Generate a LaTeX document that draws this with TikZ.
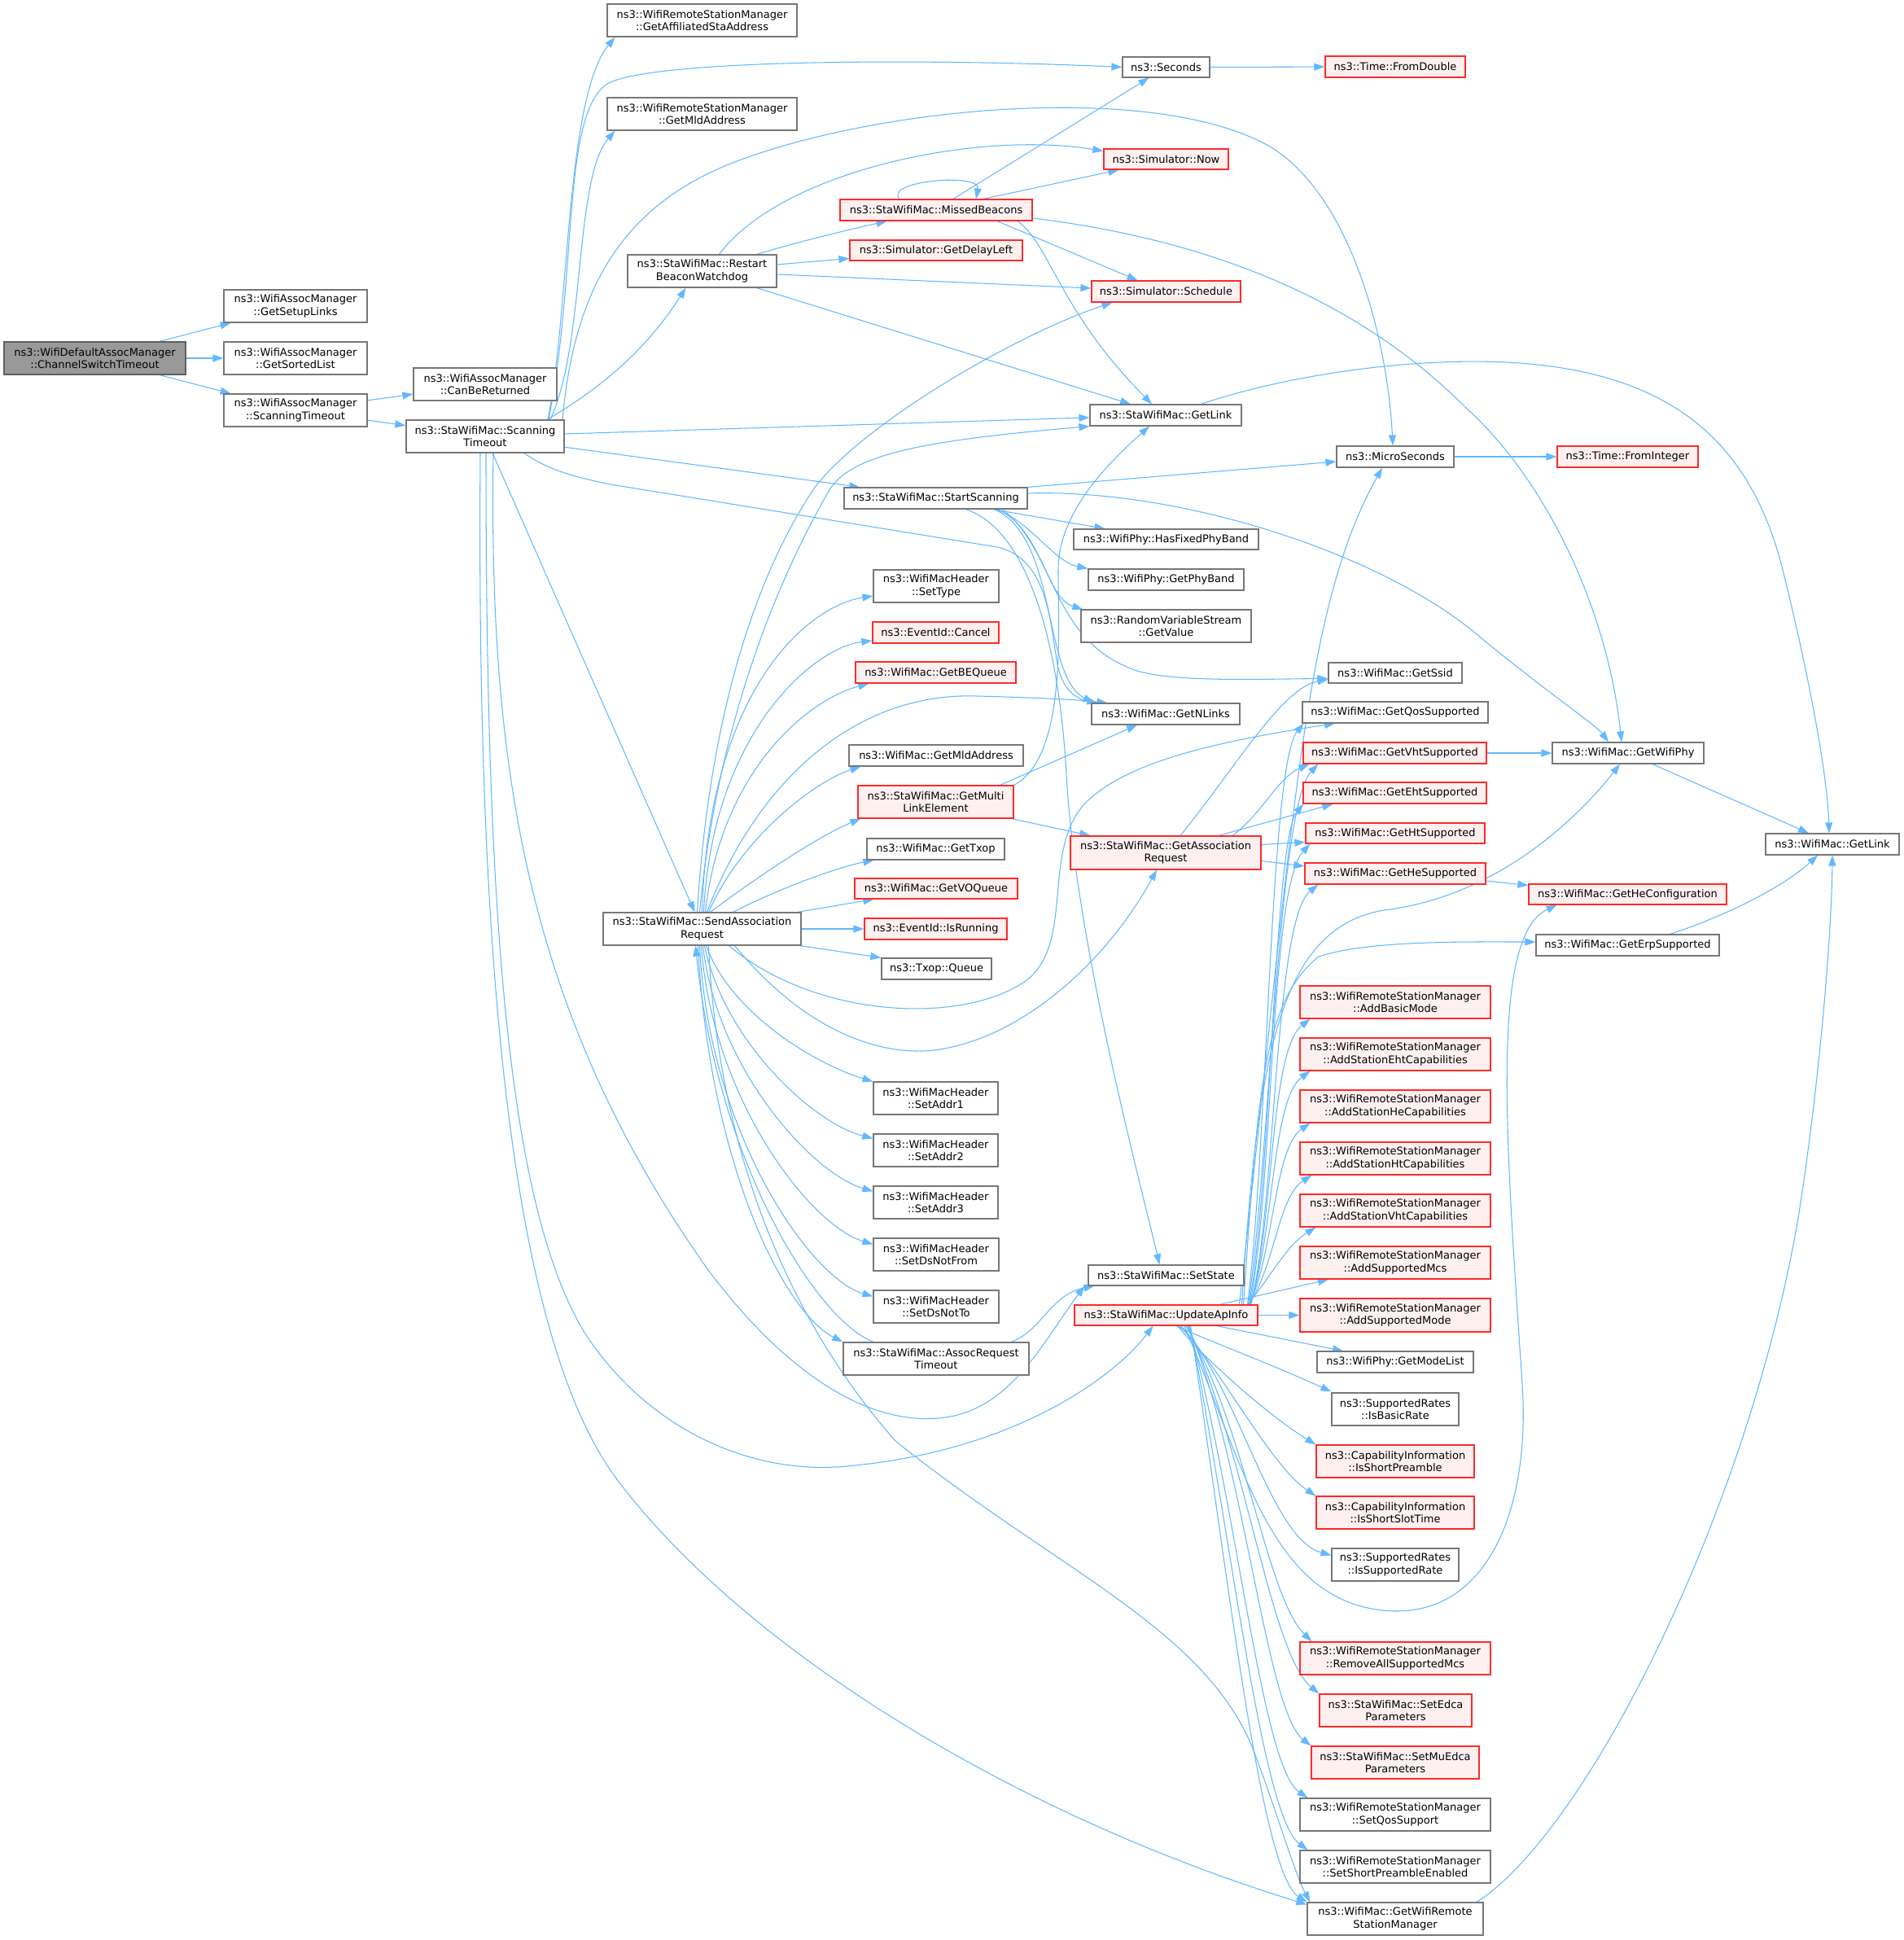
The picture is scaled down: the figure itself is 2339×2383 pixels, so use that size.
\documentclass[tikz,border=0pt]{standalone}
\usepackage{fontspec}
\setmainfont{DejaVu Sans}
\usetikzlibrary{arrows.meta,calc}
\definecolor{edgec}{HTML}{63B8FF}
\definecolor{nodeb}{HTML}{777777}
\definecolor{redb}{HTML}{FF2A2A}
\definecolor{redf}{HTML}{FFF0F0}
\definecolor{grayf}{HTML}{999999}
\pgfdeclarelayer{back}
\pgfdeclarelayer{edges}
\pgfsetlayers{back,edges,main}
\newcommand\mknode[7]{\node[#6, minimum width={(#3)-(#2)}, minimum height={(#5)-(#4)}] (#1) at ({((#2)+(#3))/2},{((#4)+(#5))/2}) {#7};}
\tikzset{
  wbox/.style={draw=nodeb, fill=white, line width=1.2pt, inner sep=0pt, align=center, font=\fontsize{13}{15.4}\selectfont},
  rbox/.style={wbox, draw=redb, fill=redf},
  gbox/.style={wbox, draw=nodeb!80!black, fill=grayf},
  e/.style={draw=edgec, line width=1.05pt, -{Triangle[length=13pt,width=9pt]}, fill=none}
}
\begin{document}
\begin{tikzpicture}[x=1pt,y=-1pt]
\begin{pgfonlayer}{back}
\fill[white] (0,0) rectangle (2339,2383);
\end{pgfonlayer}
\useasboundingbox (0,0) rectangle (2339,2383);

\mknode{root}{5}{228}{420}{460}{gbox}{ns3::WifiDefaultAssocManager\\::ChannelSwitchTimeout}
\mknode{setup}{275}{451}{356}{396}{wbox}{ns3::WifiAssocManager\\::GetSetupLinks}
\mknode{sorted}{275}{451}{420}{460}{wbox}{ns3::WifiAssocManager\\::GetSortedList}
\mknode{wamscan}{275}{451}{484}{524}{wbox}{ns3::WifiAssocManager\\::ScanningTimeout}
\mknode{canbe}{508}{684}{452}{492}{wbox}{ns3::WifiAssocManager\\::CanBeReturned}
\mknode{scan}{499}{693}{516}{556}{wbox}{ns3::StaWifiMac::Scanning\\Timeout}
\mknode{affil}{746}{979}{5}{45}{wbox}{ns3::WifiRemoteStationManager\\::GetAffiliatedStaAddress}
\mknode{rsmmld}{746}{979}{120}{160}{wbox}{ns3::WifiRemoteStationManager\\::GetMldAddress}
\mknode{restart}{771}{954}{313}{353}{wbox}{ns3::StaWifiMac::Restart\\BeaconWatchdog}
\mknode{seconds}{1379}{1486}{70}{95}{wbox}{ns3::Seconds}
\mknode{fromdouble}{1628}{1800}{69}{95}{rbox}{ns3::Time::FromDouble}
\mknode{now}{1356}{1509}{183}{208}{rbox}{ns3::Simulator::Now}
\mknode{missed}{1032}{1268}{245}{271}{rbox}{ns3::StaWifiMac::MissedBeacons}
\mknode{delay}{1044}{1256}{295}{320}{rbox}{ns3::Simulator::GetDelayLeft}
\mknode{schedule}{1341}{1524}{345}{371}{rbox}{ns3::Simulator::Schedule}
\mknode{stalink}{1339}{1525}{497}{523}{wbox}{ns3::StaWifiMac::GetLink}
\mknode{micro}{1642}{1786}{548}{574}{wbox}{ns3::MicroSeconds}
\mknode{fromint}{1913}{2086}{548}{574}{rbox}{ns3::Time::FromInteger}
\mknode{startscan}{1037}{1262}{599}{625}{wbox}{ns3::StaWifiMac::StartScanning}
\mknode{hasfixed}{1319}{1546}{650}{675}{wbox}{ns3::WifiPhy::HasFixedPhyBand}
\mknode{phyband}{1337}{1528}{699}{725}{wbox}{ns3::WifiPhy::GetPhyBand}
\mknode{getvalue}{1328}{1537}{749}{789}{wbox}{ns3::RandomVariableStream\\::GetValue}
\mknode{settype}{1073}{1227}{700}{740}{wbox}{ns3::WifiMacHeader\\::SetType}
\mknode{cancel}{1072}{1227}{764}{790}{rbox}{ns3::EventId::Cancel}
\mknode{bequeue}{1051}{1248}{813}{839}{rbox}{ns3::WifiMac::GetBEQueue}
\mknode{nlinks}{1341}{1523}{864}{890}{wbox}{ns3::WifiMac::GetNLinks}
\mknode{macmld}{1043}{1257}{915}{941}{wbox}{ns3::WifiMac::GetMldAddress}
\mknode{mle}{1054}{1245}{965}{1005}{rbox}{ns3::StaWifiMac::GetMulti\\LinkElement}
\mknode{txop}{1065}{1234}{1030}{1056}{wbox}{ns3::WifiMac::GetTxop}
\mknode{voqueue}{1050}{1250}{1079}{1104}{rbox}{ns3::WifiMac::GetVOQueue}
\mknode{isrunning}{1062}{1237}{1128}{1154}{rbox}{ns3::EventId::IsRunning}
\mknode{queue}{1083}{1218}{1177}{1203}{wbox}{ns3::Txop::Queue}
\mknode{sendassoc}{741}{984}{1121}{1161}{wbox}{ns3::StaWifiMac::SendAssociation\\Request}
\mknode{getassoc}{1315}{1549}{1027}{1068}{rbox}{ns3::StaWifiMac::GetAssociation\\Request}
\mknode{ssid}{1632}{1796}{814}{839}{wbox}{ns3::WifiMac::GetSsid}
\mknode{qos}{1600}{1828}{862}{888}{wbox}{ns3::WifiMac::GetQosSupported}
\mknode{vht}{1601}{1826}{912}{938}{rbox}{ns3::WifiMac::GetVhtSupported}
\mknode{eht}{1601}{1826}{961}{987}{rbox}{ns3::WifiMac::GetEhtSupported}
\mknode{ht}{1604}{1824}{1011}{1036}{rbox}{ns3::WifiMac::GetHtSupported}
\mknode{he}{1603}{1825}{1060}{1086}{rbox}{ns3::WifiMac::GetHeSupported}
\mknode{wifiphy}{1907}{2093}{912}{938}{wbox}{ns3::WifiMac::GetWifiPhy}
\mknode{maclink}{2169}{2333}{1024}{1050}{wbox}{ns3::WifiMac::GetLink}
\mknode{heconf}{1878}{2121}{1086}{1111}{rbox}{ns3::WifiMac::GetHeConfiguration}
\mknode{erp}{1887}{2112}{1148}{1174}{wbox}{ns3::WifiMac::GetErpSupported}
\mknode{addbasic}{1597}{1831}{1211}{1251}{rbox}{ns3::WifiRemoteStationManager\\::AddBasicMode}
\mknode{addeht}{1597}{1831}{1275}{1315}{rbox}{ns3::WifiRemoteStationManager\\::AddStationEhtCapabilities}
\mknode{addhe}{1597}{1831}{1339}{1379}{rbox}{ns3::WifiRemoteStationManager\\::AddStationHeCapabilities}
\mknode{addht}{1597}{1831}{1403}{1443}{rbox}{ns3::WifiRemoteStationManager\\::AddStationHtCapabilities}
\mknode{addvht}{1597}{1831}{1467}{1507}{rbox}{ns3::WifiRemoteStationManager\\::AddStationVhtCapabilities}
\mknode{addmcs}{1597}{1831}{1531}{1571}{rbox}{ns3::WifiRemoteStationManager\\::AddSupportedMcs}
\mknode{addmode}{1597}{1831}{1595}{1636}{rbox}{ns3::WifiRemoteStationManager\\::AddSupportedMode}
\mknode{modelist}{1618}{1810}{1660}{1686}{wbox}{ns3::WifiPhy::GetModeList}
\mknode{isbasic}{1636}{1792}{1711}{1751}{wbox}{ns3::SupportedRates\\::IsBasicRate}
\mknode{shortpre}{1617}{1811}{1775}{1815}{rbox}{ns3::CapabilityInformation\\::IsShortPreamble}
\mknode{shortslot}{1617}{1811}{1838}{1878}{rbox}{ns3::CapabilityInformation\\::IsShortSlotTime}
\mknode{issupp}{1636}{1792}{1902}{1942}{wbox}{ns3::SupportedRates\\::IsSupportedRate}
\mknode{removeall}{1597}{1831}{2017}{2057}{rbox}{ns3::WifiRemoteStationManager\\::RemoveAllSupportedMcs}
\mknode{setedca}{1621}{1808}{2081}{2121}{rbox}{ns3::StaWifiMac::SetEdca\\Parameters}
\mknode{setmuedca}{1611}{1817}{2145}{2185}{rbox}{ns3::StaWifiMac::SetMuEdca\\Parameters}
\mknode{setqos}{1597}{1831}{2209}{2249}{wbox}{ns3::WifiRemoteStationManager\\::SetQosSupport}
\mknode{setshort}{1597}{1831}{2273}{2313}{wbox}{ns3::WifiRemoteStationManager\\::SetShortPreambleEnabled}
\mknode{getrsm}{1606}{1822}{2337}{2377}{wbox}{ns3::WifiMac::GetWifiRemote\\StationManager}
\mknode{addr1}{1073}{1226}{1329}{1369}{wbox}{ns3::WifiMacHeader\\::SetAddr1}
\mknode{addr2}{1073}{1226}{1393}{1433}{wbox}{ns3::WifiMacHeader\\::SetAddr2}
\mknode{addr3}{1073}{1226}{1457}{1497}{wbox}{ns3::WifiMacHeader\\::SetAddr3}
\mknode{dsfrom}{1073}{1227}{1521}{1561}{wbox}{ns3::WifiMacHeader\\::SetDsNotFrom}
\mknode{dsto}{1073}{1227}{1585}{1625}{wbox}{ns3::WifiMacHeader\\::SetDsNotTo}
\mknode{assoctimeout}{1036}{1264}{1649}{1689}{wbox}{ns3::StaWifiMac::AssocRequest\\Timeout}
\mknode{setstate}{1337}{1528}{1554}{1579}{wbox}{ns3::StaWifiMac::SetState}
\mknode{updateap}{1320}{1545}{1603}{1628}{rbox}{ns3::StaWifiMac::UpdateApInfo}

\begin{pgfonlayer}{edges}
% root
\draw[e] (root) -- (setup);
\draw[e] (root) -- (sorted);
\draw[e] (root) -- (wamscan);
\draw[e] (wamscan) -- (canbe);
\draw[e] (wamscan) -- (scan);
% scanning timeout
\draw[e] ($(scan.north)+(77,0)$) .. controls (700,380) and (695,120) .. ($(affil.south west)+(10,0)$);
\draw[e] ($(scan.north)+(80,0)$) .. controls (720,420) and (705,220) .. ($(rsmmld.south west)+(10,0)$);
\draw[e] ($(scan.north)+(78,0)$) .. controls (710,330) and (690,140) .. (746,103) .. controls (800,72) and (1150,72) .. (seconds.west);
\draw[e] ($(scan.north)+(95,0)$) .. controls (705,360) and (760,255) .. (900,200) .. controls (1080,130) and (1420,100) .. (1560,180) .. controls (1660,240) and (1705,420) .. ($(micro.north)+(-3,0)$);
\draw[e] ($(scan.north)+(76,0)$) .. controls (750,470) and (800,420) .. ($(restart.south)+(-20,0)$);
\draw[e] (scan) -- (stalink);
\draw[e] (scan) -- ($(startscan.north west)+(20,0)$);
\draw[e] ($(scan.south)+(48,0)$) .. controls (670,575) and (700,585) .. (750,595) -- (1225,672) .. controls (1285,685) and (1290,760) .. (1298,810) .. controls (1303,845) and (1320,858) .. ($(nlinks.north west)+(8,0)$);
\draw[e] (scan) -- (sendassoc);
\draw[e] ($(scan.south)+(10,0)$) .. controls (600,950) and (650,1250) .. (870,1560) .. controls (960,1680) and (1060,1750) .. (1153,1742) .. controls (1240,1735) and (1280,1650) .. ($(setstate.south west)+(-4,0)$);
\draw[e] ($(scan.south)+(1,0)$) .. controls (597,1100) and (620,1480) .. (720,1640) .. controls (800,1760) and (930,1815) .. (1050,1800) .. controls (1250,1780) and (1370,1690) .. ($(updateap.south)+(-16,0)$);
\draw[e] ($(scan.south)+(-6,0)$) .. controls (585,1200) and (630,1650) .. (760,1820) .. controls (920,2030) and (1250,2230) .. ($(getrsm.north west)+(0,3)$);
% restart beacon watchdog
\draw[e] ($(restart.north)+(21,0)$) .. controls (960,210) and (1200,160) .. ($(now.west)+(0,-10)$);
\draw[e] (restart) .. controls (970,300) and (1030,285) .. (missed);
\draw[e] ($(restart.east)+(0,-8)$) -- ($(delay.west)+(0,10)$);
\draw[e] ($(restart.east)+(0,4)$) -- ($(schedule.west)+(0,-4)$);
\draw[e] ($(restart.south)+(67,0)$) -- ($(stalink.north)+(-43,0)$);
% missed beacons
\draw[e] ($(missed.north)+(-45,0)$) .. controls (1085,222) and (1205,212) .. ($(missed.north)+(49,0)$);
\draw[e] ($(missed.north)+(21,0)$) -- ($(seconds.south)+(-21,0)$);
\draw[e] ($(missed.north)+(58,0)$) -- ($(now.south)+(-58,0)$);
\draw[e] ($(missed.south)+(75,0)$) -- ($(schedule.north)+(-35,0)$);
\draw[e] ($(missed.south)+(100,0)$) .. controls (1290,300) and (1300,380) .. ($(stalink.north)+(-17,0)$);
\draw[e] ($(missed.east)+(0,10)$) .. controls (1450,290) and (1650,350) .. (1800,500) .. controls (1900,590) and (1975,750) .. ($(wifiphy.north)+(-8,0)$);
\draw[e] (seconds) -- (fromdouble);
\draw[e] ($(stalink.north)+(43,0)$) .. controls (1600,455) and (1750,440) .. (1850,445) .. controls (2050,455) and (2150,540) .. (2190,700) .. controls (2220,820) and (2245,950) .. ($(maclink.north)+(-4,0)$);
\draw[e] (micro) -- (fromint);
% start scanning
\draw[e] (startscan.north east) -- ($(micro.west)+(0,6)$);
\draw[e] ($(startscan.south)+(70,0)$) -- ($(hasfixed.north)+(-75,0)$);
\draw[e] ($(startscan.south)+(74,0)$) .. controls (1265,640) and (1295,690) .. (phyband.north west);
\draw[e] ($(startscan.south)+(76,0)$) .. controls (1280,650) and (1285,735) .. ($(getvalue.north west)+(3,0)$);
\draw[e] ($(startscan.south)+(82,0)$) .. controls (1300,680) and (1290,790) .. (1400,825) .. controls (1450,838) and (1550,834) .. ($(ssid.west)+(0,7)$);
\draw[e] ($(startscan.south)+(72,0)$) .. controls (1300,660) and (1280,830) .. ($(nlinks.north west)+(3,0)$);
\draw[e] ($(startscan.south)+(37,0)$) .. controls (1260,650) and (1300,780) .. (1310,950) .. controls (1320,1150) and (1400,1450) .. ($(setstate.north)+(-8,0)$);
\draw[e] ($(startscan.east)+(0,-6)$) .. controls (1450,600) and (1700,680) .. (1820,784) .. controls (1900,850) and (1960,890) .. ($(wifiphy.north)+(-24,0)$);
% send association request, upper fan
\draw[e] ($(sendassoc.north)+(-6,0)$) .. controls (870,900) and (920,720) .. (1000,600) .. controls (1060,520) and (1250,410) .. ($(schedule.south)+(-66,0)$);
\draw[e] ($(sendassoc.north)+(-3,0)$) .. controls (880,900) and (950,720) .. (1020,600) .. controls (1050,555) and (1150,540) .. (stalink.south west);
\draw[e] (sendassoc.north) .. controls (870,850) and (990,745) .. ($(settype.west)+(0,12)$);
\draw[e] ($(sendassoc.north)+(2,0)$) .. controls (875,900) and (1000,795) .. ($(cancel.west)+(0,10)$);
\draw[e] ($(sendassoc.north)+(4,0)$) .. controls (885,950) and (990,860) .. ($(bequeue.south west)+(17,0)$);
\draw[e] ($(sendassoc.north)+(6,0)$) .. controls (930,960) and (1050,850) .. (1200,855) .. controls (1280,857) and (1330,860) .. ($(nlinks.north west)+(20,0)$);
\draw[e] ($(sendassoc.north)+(8,0)$) .. controls (910,1030) and (1000,960) .. ($(macmld.south west)+(15,0)$);
\draw[e] ($(sendassoc.north)+(10,0)$) .. controls (940,1070) and (1010,1025) .. ($(mle.south west)+(4,0)$);
\draw[e] ($(sendassoc.north)+(38,0)$) .. controls (960,1090) and (1030,1065) .. ($(txop.south west)+(9,0)$);
\draw[e] ($(sendassoc.north east)+(-5,0)$) -- ($(voqueue.south west)+(24,0)$);
\draw[e] (sendassoc) -- (isrunning);
\draw[e] ($(sendassoc.south east)+(-2,0)$) -- (queue.north west);
% send association request, lower fan
\draw[e] ($(sendassoc.south)+(33,0)$) .. controls (1000,1250) and (1180,1260) .. (1260,1205) .. controls (1320,1160) and (1280,1050) .. (1330,990) .. controls (1380,935) and (1500,910) .. ($(qos.south)+(-74,0)$);
\draw[e] ($(sendassoc.south)+(40,0)$) .. controls (1000,1280) and (1100,1300) .. (1160,1288) .. controls (1260,1270) and (1360,1180) .. ($(getassoc.south)+(-11,0)$);
\draw[e] ($(sendassoc.south)+(5,0)$) .. controls (900,1250) and (1010,1310) .. (addr1.north west);
\draw[e] ($(sendassoc.south)+(3,0)$) .. controls (890,1280) and (1000,1380) .. ($(addr2.north west)+(0,6)$);
\draw[e] ($(sendassoc.south)+(1,0)$) .. controls (880,1310) and (995,1440) .. ($(addr3.north west)+(0,7)$);
\draw[e] ($(sendassoc.south)+(-1,0)$) .. controls (875,1350) and (995,1505) .. ($(dsfrom.north west)+(0,8)$);
\draw[e] ($(sendassoc.south)+(-3,0)$) .. controls (870,1390) and (995,1570) .. ($(dsto.north west)+(0,8)$);
\draw[e] ($(sendassoc.south)+(-5,0)$) .. controls (870,1420) and (960,1610) .. (assoctimeout.north west);
\draw[e] ($(sendassoc.south)+(8,0)$) .. controls (880,1380) and (950,1600) .. (1100,1770) .. controls (1300,1930) and (1480,2000) .. (1540,2150) .. controls (1570,2230) and (1590,2300) .. ($(getrsm.north west)+(4,0)$);
% assoc request timeout
\draw[e] ($(assoctimeout.north)+(-77,0)$) .. controls (1000,1620) and (880,1420) .. ($(sendassoc.south)+(-8,0)$);
\draw[e] ($(assoctimeout.north)+(92,0)$) .. controls (1280,1635) and (1290,1590) .. ($(setstate.south west)+(8,0)$);
% multi link element
\draw[e] ($(mle.north)+(79,0)$) -- ($(nlinks.south)+(-35,0)$);
\draw[e] (mle.north east) .. controls (1310,930) and (1300,780) .. (1300,700) .. controls (1300,630) and (1360,570) .. ($(stalink.south)+(-20,0)$);
\draw[e] ($(mle.south east)+(-3,0)$) -- ($(getassoc.north west)+(25,0)$);
% get association request
\draw[e] ($(getassoc.north)+(18,0)$) .. controls (1520,940) and (1575,845) .. ($(ssid.west)+(0,8)$);
\draw[e] ($(getassoc.north)+(82,0)$) .. controls (1550,1000) and (1570,955) .. ($(vht.south west)+(8,0)$);
\draw[e] ($(getassoc.north)+(65,0)$) -- ($(eht.south west)+(37,0)$);
\draw[e] ($(getassoc.east)+(0,-10)$) -- ($(ht.west)+(0,11)$);
\draw[e] ($(getassoc.east)+(0,10)$) -- ($(he.west)+(0,-9)$);
% right part
\draw[e] (vht) -- (wifiphy);
\draw[e] ($(wifiphy.south)+(30,0)$) -- ($(maclink.north)+(-29,0)$);
\draw[e] ($(he.east)+(0,9)$) -- ($(heconf.west)+(0,-11)$);
\draw[e] ($(erp.north)+(52,0)$) .. controls (2120,1125) and (2190,1090) .. ($(maclink.south)+(-18,0)$);
\draw[e] ($(getrsm.north)+(100,0)$) .. controls (1950,2250) and (2150,1850) .. (2210,1490) .. controls (2235,1330) and (2250,1150) .. (maclink.south);
% update ap info
\draw[e] (updateap) -- (addmode);
\draw[e] ($(updateap.north)+(66,0)$) -- ($(addmcs.south)+(-82,0)$);
\draw[e] ($(updateap.south)+(62,0)$) -- ($(modelist.north)+(-64,0)$);
\draw[e] ($(updateap.north)+(100,0)$) .. controls (1560,1570) and (1580,1530) .. ($(addvht.south west)+(20,0)$);
\draw[e] ($(updateap.north)+(101,0)$) .. controls (1565,1560) and (1570,1470) .. ($(addht.south west)+(15,0)$);
\draw[e] ($(updateap.north)+(102,0)$) .. controls (1565,1540) and (1565,1410) .. ($(addhe.south west)+(13,0)$);
\draw[e] ($(updateap.north)+(103,0)$) .. controls (1565,1520) and (1562,1350) .. ($(addeht.south west)+(13,0)$);
\draw[e] ($(updateap.north)+(104,0)$) .. controls (1565,1500) and (1560,1290) .. ($(addbasic.south west)+(13,0)$);
\draw[e] ($(updateap.north)+(104,0)$) .. controls (1568,1480) and (1565,1130) .. ($(he.south west)+(17,0)$);
\draw[e] ($(updateap.north)+(103,0)$) .. controls (1565,1450) and (1560,1090) .. ($(ht.south west)+(6,0)$);
\draw[e] ($(updateap.north)+(102,0)$) .. controls (1562,1450) and (1565,1030) .. ($(eht.south west)+(1,0)$);
\draw[e] ($(updateap.north)+(101,0)$) .. controls (1560,1420) and (1570,990) .. ($(vht.south west)+(19,0)$);
\draw[e] ($(updateap.north)+(100,0)$) .. controls (1558,1400) and (1560,940) .. ($(qos.south west)+(2,0)$);
\draw[e] ($(updateap.north)+(95,0)$) .. controls (1545,1350) and (1550,1230) .. (1620,1175) .. controls (1680,1155) and (1800,1157) .. ($(erp.west)+(0,-4)$);
\draw[e] ($(updateap.north)+(93,0)$) .. controls (1545,1300) and (1570,1140) .. (1700,1118) .. controls (1850,1100) and (1950,990) .. ($(wifiphy.south)+(-10,0)$);
\draw[e] ($(updateap.north)+(90,0)$) .. controls (1590,1000) and (1600,750) .. ($(micro.south)+(-16,0)$);
\draw[e] ($(updateap.south)+(12,0)$) .. controls (1480,1645) and (1560,1675) .. ($(isbasic.north west)+(0,-1)$);
\draw[e] ($(updateap.south)+(14,0)$) .. controls (1480,1670) and (1560,1740) .. (shortpre.north west);
\draw[e] ($(updateap.south)+(16,0)$) .. controls (1500,1680) and (1560,1800) .. (shortslot.north west);
\draw[e] ($(updateap.south)+(18,0)$) .. controls (1520,1700) and (1560,1890) .. ($(issupp.north west)+(0,9)$);
\draw[e] ($(updateap.south)+(22,0)$) .. controls (1530,1800) and (1560,1975) .. (1714,1979) .. controls (1830,1980) and (1880,1850) .. (1870,1700) .. controls (1850,1400) and (1830,1150) .. ($(heconf.south)+(-87,0)$);
\draw[e] ($(updateap.south)+(24,0)$) .. controls (1530,1750) and (1555,1960) .. ($(removeall.north west)+(15,0)$);
\draw[e] ($(updateap.south)+(26,0)$) .. controls (1530,1780) and (1560,2030) .. (setedca.north west);
\draw[e] ($(updateap.south)+(27,0)$) .. controls (1530,1800) and (1555,2100) .. (setmuedca.north west);
\draw[e] ($(updateap.south)+(28,0)$) .. controls (1520,1850) and (1550,2170) .. ($(setqos.north west)+(10,0)$);
\draw[e] ($(updateap.south)+(29,0)$) .. controls (1515,1900) and (1550,2230) .. ($(setshort.north west)+(10,0)$);
\draw[e] ($(updateap.south)+(30,0)$) .. controls (1510,1950) and (1550,2300) .. (getrsm.north west);
\end{pgfonlayer}
\end{tikzpicture}
\end{document}
